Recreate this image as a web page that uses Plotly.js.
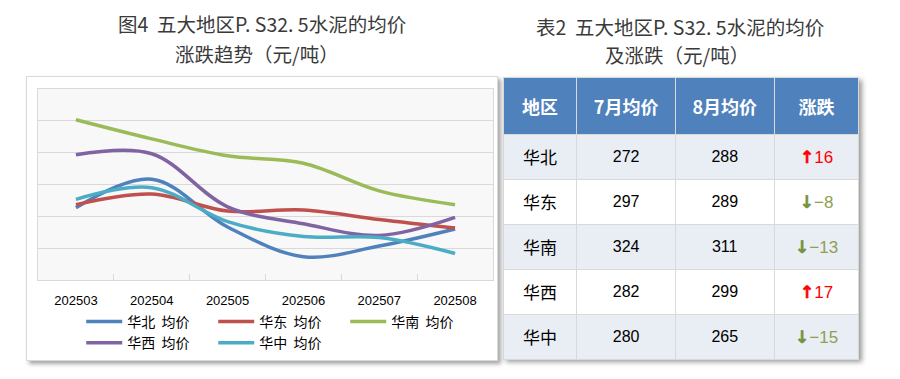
<!DOCTYPE html>
<html><head><meta charset="utf-8">
<script src="https://cdn.plot.ly/plotly-3.0.1.min.js"></script>
<style>
html,body{margin:0;padding:0;background:#fff;width:900px;height:379px;overflow:hidden;}
#box{position:absolute;left:26px;top:76px;width:470px;height:283px;background:#fff;border:1px solid #d9d9d9;box-shadow:3px 3px 4px rgba(0,0,0,0.35);}
#chart{position:absolute;left:0;top:0;width:505px;height:379px;}
#tshadow{position:absolute;left:503px;top:77px;width:356px;height:282px;background:#fff;box-shadow:3px 3px 5px rgba(0,0,0,0.4);}
#table{position:absolute;left:500px;top:0;width:400px;height:379px;}
</style>
</head><body>
<div id="box"></div>
<div id="chart"></div>
<div id="tshadow"></div>
<div id="table"></div>
<script>
// ---- data ----
var months = ['202503','202504','202505','202506','202507','202508'];
var seriesNames = ['华北\u00a0\u00a0均价','华东\u00a0\u00a0均价','华南\u00a0\u00a0均价','华西\u00a0\u00a0均价','华中\u00a0\u00a0均价'];
var huabei = [308, 335, 290, 262, 272, 288];
var huadong = [311, 321, 305, 306, 297, 289];
var huanan = [391, 373, 357, 350, 324, 311];
var huaxi = [358, 359, 309, 293, 282, 299];
var huazhong = [316, 327, 295, 281, 280, 265];
var seriesColors = ['#4f81bd','#c0504d','#9bbb59','#8064a2','#4bacc6'];

var regions = ['华北','华东','华南','华西','华中'];
var julyAvg = [272, 297, 324, 282, 280];
var augAvg = [288, 289, 311, 299, 265];
var tableHeader = ['地区','7月均价','8月均价','涨跌'];

var chartTitle1 = '图4\u00a0\u00a0五大地区P. S32. 5水泥的均价';
var chartTitle2 = '涨跌趋势（元/吨）';
var tableTitle1 = '表2\u00a0\u00a0五大地区P. S32. 5水泥的均价';
var tableTitle2 = '及涨跌（元/吨）';

var CJK = '"Noto Sans CJK SC", "Noto Sans", sans-serif';
var LAT = '"Liberation Sans", Arial, sans-serif';

// ---- line chart ----
var allSeries = [huabei, huadong, huanan, huaxi, huazhong];
var traces = allSeries.map(function(vals, i){
  return {
    type:'scatter', mode:'lines', x: months, y: vals, name: seriesNames[i],
    line:{color: seriesColors[i], width:3.5, shape:'spline', smoothing:1}
  };
});
var plotTop = 89, plotBottom = 280;
function py(px){ return (plotBottom - px)/(plotBottom - plotTop); }
var layout = {
  width:505, height:379,
  margin:{l:38, r:12, t:89, b:99, autoexpand:false},
  paper_bgcolor:'rgba(0,0,0,0)', plot_bgcolor:'#f8f8f8',
  showlegend:true,
  xaxis:{type:'category', range:[-0.5,5.5], tickson:'boundaries', ticks:'inside', ticklen:6,
         tickcolor:'#d9d9d9', showline:true, linecolor:'#d9d9d9', mirror:true, showgrid:false,
         ticklabelstandoff:8, automargin:false,
         tickfont:{family:LAT, size:13, color:'#000'}},
  yaxis:{range:[240,420], tick0:240, dtick:30, showticklabels:false, gridcolor:'#d9d9d9',
         showline:true, linecolor:'#d9d9d9', mirror:true, zeroline:false, ticks:'', automargin:false},
  legend:{orientation:'h', x:0.095, xanchor:'left', y:py(306), yanchor:'top',
          entrywidth:81, entrywidthmode:'pixels', itemwidth:36,
          font:{family:CJK, size:14, color:'#000'}, bgcolor:'rgba(0,0,0,0)'},
  annotations:[
    {text:chartTitle1, xref:'paper', yref:'paper', x:(262-38)/455, y:py(24), xanchor:'center', yanchor:'middle', showarrow:false,
     font:{family:CJK, size:19.5, color:'#3a3a3a'}},
    {text:chartTitle2, xref:'paper', yref:'paper', x:(257-38)/455, y:py(54), xanchor:'center', yanchor:'middle', showarrow:false,
     font:{family:CJK, size:19.5, color:'#3a3a3a'}}
  ]
};
Plotly.newPlot('chart', traces, layout, {staticPlot:true, displayModeBar:false});

// ---- table ----
var upStyle = 'color:#ff0000;fill:#ff0000;stroke:#ff0000;stroke-width:0.6px;font-family:DejaVu Sans;font-size:17px;font-weight:bold';
var downStyle = 'color:#76923c;fill:#76923c;stroke:#76923c;stroke-width:0.6px;font-family:DejaVu Sans;font-size:17px;font-weight:bold';
var changeText = julyAvg.map(function(j, i){
  var d = augAvg[i] - j;
  if(d >= 0) return '<span style="' + upStyle + '">↑</span><span style="color:#ff0000">' + d + '</span><br>';
  return '<span style="' + downStyle + '">↓</span><span style="color:#8fa050">−' + Math.abs(d) + '</span><br>';
});
var rowFill = regions.map(function(r, i){ return i % 2 === 0 ? '#e9edf4' : '#ffffff'; });
var tTop = 77, tBottom = 360;
function ty(px){ return (tBottom - px)/(tBottom - tTop); }
var tableTrace = {
  type:'table',
  domain:{x:[0,1], y:[0,1]},
  columnwidth:[74, 98.6, 99, 85],
  header:{
    values: tableHeader.map(function(h){ return '<b>' + h + '</b>'; }),
    height:57, align:'center',
    fill:{color:'#4f81bd'},
    line:{color:'#d9d9d9', width:1},
    font:{family:CJK, size:18, color:'#ffffff'}
  },
  cells:{
    values:[regions, julyAvg, augAvg, changeText],
    height:45, align:'center',
    fill:{color:[rowFill, rowFill, rowFill, rowFill]},
    line:{color:'#d9d9d9', width:1},
    font:{family:[CJK, LAT, LAT, LAT], size:[17, 16, 16, 17], color:'#000'}
  }
};
var tlayout = {
  width:400, height:379,
  margin:{l:3, r:41, t:77, b:19, autoexpand:false},
  paper_bgcolor:'rgba(0,0,0,0)',
  annotations:[
    {text:tableTitle1, xref:'paper', yref:'paper', x:(680-503)/356, y:ty(26), xanchor:'center', yanchor:'middle', showarrow:false,
     font:{family:CJK, size:19.5, color:'#3a3a3a'}},
    {text:tableTitle2, xref:'paper', yref:'paper', x:(677-503)/356, y:ty(55), xanchor:'center', yanchor:'middle', showarrow:false,
     font:{family:CJK, size:19.5, color:'#3a3a3a'}}
  ]
};
function centerCells(gd){
  gd.querySelectorAll('g.column-cell').forEach(function(cell){
    var rect = cell.querySelector('rect.cell-rect');
    var txt = cell.querySelector('text.cell-text');
    if(!rect || !txt) return;
    var rb = rect.getBoundingClientRect(), tb = txt.getBoundingClientRect();
    if(!rb.height || !tb.height) return;
    var dy = (rb.top + rb.height/2) - (tb.top + tb.height/2);
    txt.setAttribute('transform', 'translate(0,' + dy.toFixed(1) + ')');
  });
}
Plotly.newPlot('table', [tableTrace], tlayout, {staticPlot:true, displayModeBar:false}).then(function(gd){
  centerCells(gd);
});
</script>
</body></html>
